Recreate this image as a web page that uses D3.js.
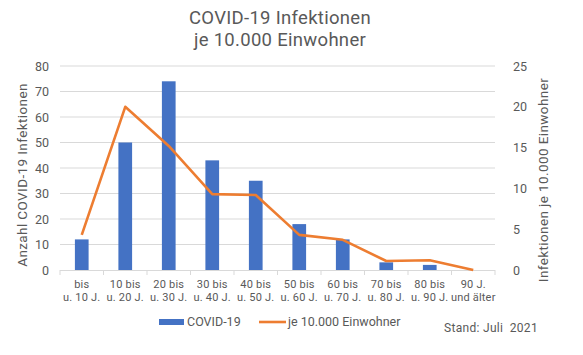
<!DOCTYPE html>
<html><head><meta charset="utf-8">
<script src="https://cdn.jsdelivr.net/npm/d3@7"></script>
<style>body{margin:0;background:#fff;} text{font-family:Roboto, "Liberation Sans", sans-serif;}</style>
</head><body><svg id="c" width="583" height="355"></svg>
<script>
const categories = [["bis","u. 10 J."],["10 bis","u. 20 J."],["20 bis","u. 30 J."],["30 bis","u. 40 J."],["40 bis","u. 50 J."],["50 bis","u. 60 J."],["60 bis","u. 70 J."],["70 bis","u. 80 J."],["80 bis","u. 90 J."],["90 J.","und älter"]];
const covidCases = [12, 50, 74, 43, 35, 18, 12, 3, 2, 0];
const per10000 = [4.3, 20, 15.2, 9.3, 9.2, 4.3, 3.7, 1.1, 1.2, 0];
const leftTicks = [0,10,20,30,40,50,60,70,80];
const rightTicks = [0,5,10,15,20,25];

const svg = d3.select("#c");
const gray = "#595959";
const x = d3.scaleBand().domain(d3.range(categories.length)).range([60, 495]);
const yL = d3.scaleLinear().domain([0,80]).range([270, 66]);
const yR = d3.scaleLinear().domain([0,25]).range([270, 66]);

// gridlines
svg.append("g").selectAll("line").data(leftTicks.filter(d=>d>0)).join("line")
  .attr("x1",60).attr("x2",495).attr("y1",d=>yL(d)).attr("y2",d=>yL(d))
  .attr("stroke","#d9d9d9").attr("stroke-width",1);

// bars
const bw = 13.7;
svg.append("g").selectAll("rect").data(covidCases).join("rect")
  .attr("x",(d,i)=>x(i)+x.bandwidth()/2-bw/2).attr("width",bw)
  .attr("y",d=>yL(d)).attr("height",d=>yL(0)-yL(d)).attr("fill","#4472c4");

// x axis
svg.append("line").attr("x1",60).attr("x2",495).attr("y1",270.5).attr("y2",270.5).attr("stroke","#d9d9d9");
svg.append("g").selectAll("line").data(d3.range(categories.length+1)).join("line")
  .attr("x1",i=>60+i*x.bandwidth()).attr("x2",i=>60+i*x.bandwidth())
  .attr("y1",270).attr("y2",275).attr("stroke","#d9d9d9");

// line
svg.append("path").datum(per10000)
  .attr("d", d3.line().x((d,i)=>x(i)+x.bandwidth()/2).y(d=>yR(d)))
  .attr("fill","none").attr("stroke","#ed7d31").attr("stroke-width",2.6).attr("stroke-linejoin","round");

// category labels
const cl = svg.append("g").selectAll("text").data(categories).join("text")
  .attr("text-anchor","middle").attr("fill",gray).attr("font-size",11).attr("letter-spacing",0.2);
cl.append("tspan").attr("x",(d,i)=>x(i)+x.bandwidth()/2).attr("y",288).text(d=>d[0]);
cl.append("tspan").attr("x",(d,i)=>x(i)+x.bandwidth()/2).attr("y",301).text(d=>d[1]);

// left ticks
svg.append("g").selectAll("text").data(leftTicks).join("text")
  .attr("x",49).attr("y",d=>yL(d)+4.5).attr("text-anchor","end")
  .attr("fill",gray).attr("font-size",12.5).text(d=>d);
// right ticks
svg.append("g").selectAll("text").data(rightTicks).join("text")
  .attr("x",513).attr("y",d=>yR(d)+4.5).attr("text-anchor","start")
  .attr("fill",gray).attr("font-size",12.5).text(d=>d);

// axis titles
svg.append("text").attr("transform","translate(27,175) rotate(-90)").attr("text-anchor","middle")
  .attr("fill",gray).attr("font-size",13.5).attr("letter-spacing",0.4).text("Anzahl COVID-19 Infektionen");
svg.append("text").attr("transform","translate(548,180) rotate(-90)").attr("text-anchor","middle")
  .attr("fill",gray).attr("font-size",13.5).attr("letter-spacing",0.4).text("Infektionen je 10.000 Einwohner");

// title
svg.append("text").attr("x",280).attr("y",24).attr("text-anchor","middle").attr("fill",gray)
  .attr("font-size",18.5).attr("letter-spacing",0.3).text("COVID-19 Infektionen");
svg.append("text").attr("x",280).attr("y",46).attr("text-anchor","middle").attr("fill",gray)
  .attr("font-size",18.5).attr("letter-spacing",0.3).text("je 10.000 Einwohner");

// legend
svg.append("rect").attr("x",159).attr("y",319).attr("width",25).attr("height",6).attr("fill","#4472c4");
svg.append("text").attr("x",187).attr("y",326).attr("fill",gray).attr("font-size",12.5).text("COVID-19");
svg.append("line").attr("x1",259).attr("x2",286).attr("y1",322).attr("y2",322).attr("stroke","#ed7d31").attr("stroke-width",2.6);
svg.append("text").attr("x",288).attr("y",326).attr("fill",gray).attr("font-size",12.5).text("je 10.000 Einwohner");
svg.append("text").attr("x",444).attr("y",332).attr("fill",gray).attr("font-size",12).attr("letter-spacing",0.3)
  .style("white-space","pre").text("Stand: Juli  2021");
</script></body></html>
